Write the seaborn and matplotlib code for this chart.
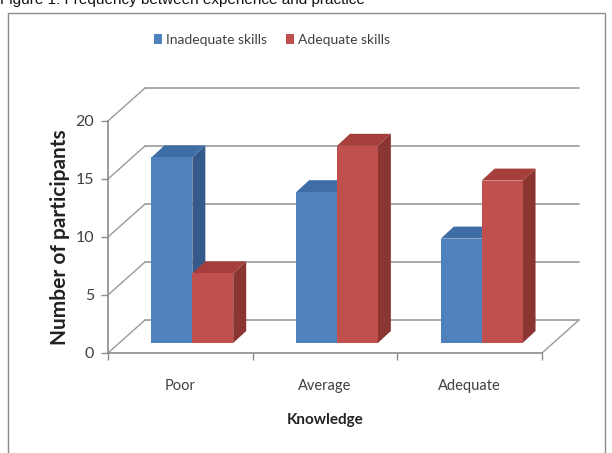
import matplotlib
matplotlib.use("Agg")
import matplotlib.pyplot as plt
import seaborn as sns
import pandas as pd
from matplotlib.patches import Polygon, Rectangle
from matplotlib.lines import Line2D

# ---- data ----
categories = ["Poor", "Average", "Adequate"]
series_names = ["Inadequate skills", "Adequate skills"]
inadequate = [16, 13, 9]
adequate = [6, 17, 14]
y_ticks = [0, 5, 10, 15, 20]

df = pd.DataFrame({
    "Knowledge": categories * 2,
    "Skills": [series_names[0]] * len(categories) + [series_names[1]] * len(categories),
    "Count": inadequate + adequate,
})

sns.set_style("white")
plt.rcParams["font.family"] = ["Lato", "DejaVu Sans"]

W, H = 612, 453
fig = plt.figure(figsize=(W / 100, H / 100), dpi=100)
fig.patch.set_facecolor("white")

# front plane of the 3D box in pixels
px0, px1, py0, py1 = 108, 542, 353, 121
ax = fig.add_axes([px0 / W, (H - py0) / H, (px1 - px0) / W, (py0 - py1) / H])
ax.set_xlim(-0.5, len(categories) - 0.5)
ax.set_ylim(0, 20)
ppx = (px1 - px0) / len(categories)   # pixels per category unit
ppy = (py0 - py1) / 20.0              # pixels per value unit

def px2d(dx, dy):
    return dx / ppx, dy / ppy

wall_dx, wall_dy = px2d(37, 33)   # back wall offset
mid_dx, mid_dy = px2d(12, 10)     # bar front plane offset
dep_dx, dep_dy = px2d(13, 12)     # bar depth

front_c = {series_names[0]: "#4F81BD", series_names[1]: "#C0504D"}
side_c = {"#4F81BD": "#35598A", "#C0504D": "#8B3533"}
top_c = {"#4F81BD": "#3F6DA6", "#C0504D": "#A63F3C"}

grid_col = "#9A9A9A"
xl, xr = -0.5, len(categories) - 0.5

# back wall gridlines and side diagonals
for t in y_ticks:
    ax.add_line(Line2D([xl + wall_dx, xr + wall_dx], [t + wall_dy, t + wall_dy],
                       color=grid_col, lw=1.2, clip_on=False, zorder=0))
    ax.add_line(Line2D([xl, xl + wall_dx], [t, t + wall_dy],
                       color=grid_col, lw=1.0, clip_on=False, zorder=0))
# floor right edge
ax.add_line(Line2D([xr, xr + wall_dx], [0, wall_dy], color=grid_col, lw=1.0,
                   clip_on=False, zorder=0))

sns.barplot(data=df, x="Knowledge", y="Count", hue="Skills", order=categories,
            hue_order=series_names, palette=front_c, width=0.565, gap=0,
            saturation=1, legend=False, edgecolor="none", ax=ax, zorder=3)

for p in list(ax.patches):
    x, y, w, h = p.get_x(), p.get_y(), p.get_width(), p.get_height()
    col = matplotlib.colors.to_hex(p.get_facecolor()).upper()
    fx, fy = x + mid_dx, y + mid_dy
    p.set_x(fx)
    p.set_y(fy)
    p.set_clip_on(False)
    sidep = Polygon([(fx + w, fy), (fx + w + dep_dx, fy + dep_dy),
                     (fx + w + dep_dx, fy + h + dep_dy), (fx + w, fy + h)],
                    closed=True, facecolor=side_c.get(col, col), edgecolor="none",
                    clip_on=False, zorder=2.9)
    topp = Polygon([(fx, fy + h), (fx + dep_dx, fy + h + dep_dy),
                    (fx + w + dep_dx, fy + h + dep_dy), (fx + w, fy + h)],
                   closed=True, facecolor=top_c.get(col, col), edgecolor="none",
                   clip_on=False, zorder=2.9)
    ax.add_patch(sidep)
    ax.add_patch(topp)

# axes styling
for s in ["top", "right"]:
    ax.spines[s].set_visible(False)
for s in ["left", "bottom"]:
    ax.spines[s].set_color("#8C8C8C")
    ax.spines[s].set_linewidth(1.2)
ax.set_yticks(y_ticks)
ax.set_yticklabels([str(t) for t in y_ticks], fontsize=11.5, color="#404040")
ax.tick_params(axis="y", length=5, width=1.0, color="#8C8C8C", pad=5, left=True)
ax.set_xticks(range(len(categories)))
ax.set_xticklabels(categories, fontsize=10.5, color="#404040")
ax.tick_params(axis="x", length=0, pad=19)
ax.set_xticks([i - 0.5 for i in range(len(categories) + 1)], minor=True)
ax.tick_params(axis="x", which="minor", length=5, width=1.0, color="#8C8C8C", bottom=True)
ax.set_xlabel("Knowledge", fontsize=11, fontweight="bold", color="#222222", labelpad=14)
ax.set_ylabel("Number of participants", fontsize=15, fontweight="bold", color="#222222",
              labelpad=4)
ax.grid(False)
ax.set_facecolor("none")

# legend
handles = [Rectangle((0, 0), 1, 1, facecolor=front_c[n], edgecolor="none") for n in series_names]
fig.legend(handles, series_names, loc="center", bbox_to_anchor=(272 / W, 1 - 40 / H),
           ncol=2, frameon=False, fontsize=10, handlelength=0.55, handleheight=0.75,
           handletextpad=0.3, columnspacing=1.4, labelcolor="#404040")

# chart frame
fig.add_artist(Rectangle((8 / W, -0.01), (605 - 8) / W, 1 - 13 / H + 0.01,
                         transform=fig.transFigure, fill=False, edgecolor="#8C8C8C", lw=1.0))

# cut-off caption at the very top (as in the reference)
fig.text(0.0, 1 + 0.5 / H, "Figure 1: Frequency between experience and practice",
         fontsize=11, family=["Liberation Sans", "DejaVu Sans"], color="#111111",
         ha="left", va="center")

fig.savefig("out.png", dpi=100)
